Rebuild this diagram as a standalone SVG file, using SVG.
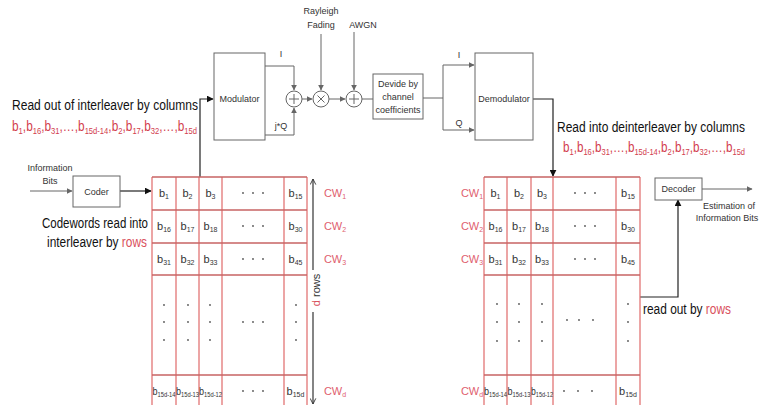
<svg xmlns="http://www.w3.org/2000/svg" width="761" height="409" viewBox="0 0 761 409">
<style>
text{font-family:"Liberation Sans",Arial,sans-serif;fill:#333}
.sm{font-size:9px;text-anchor:middle}
.big{font-size:14px;fill:#111}
.seq{font-size:14px;fill:#d2404e}
.s{font-size:9px}
.c{font-size:11px;text-anchor:middle;fill:#333}
.cs{font-size:7px}
.cw{font-size:11px;text-anchor:middle;fill:#e0606e}
.red{fill:#d9505c}
.box{fill:#fff;stroke:#666;stroke-width:1}
.ln{fill:none;stroke:#666;stroke-width:1}
.blk{fill:none;stroke:#222;stroke-width:1.2}
.g{stroke:#e06a6a;stroke-width:1.2;fill:none}
.gh{stroke:#c86464;stroke-width:1.4;fill:none}
.dot{fill:#555}
</style>
<defs>
<marker id="ah" viewBox="0 0 10 10" refX="9" refY="5" markerWidth="6" markerHeight="6" orient="auto" markerUnits="userSpaceOnUse"><path d="M0,0 L10,5 L0,10 z" fill="#666"/></marker>
<marker id="ahb" viewBox="0 0 10 10" refX="9" refY="5" markerWidth="7" markerHeight="7" orient="auto" markerUnits="userSpaceOnUse"><path d="M0,0 L10,5 L0,10 z" fill="#111"/></marker>
<marker id="open" viewBox="0 0 10 10" refX="9" refY="5" markerWidth="7" markerHeight="7" orient="auto-start-reverse" markerUnits="userSpaceOnUse"><path d="M1,1 L9,5 L1,9" fill="none" stroke="#333" stroke-width="1.3"/></marker>
</defs>

<g id="connectors">
  <path class="ln" d="M30,191 H72" marker-end="url(#ah)"/>
  <path class="blk" d="M120,191 H151" marker-end="url(#ahb)"/>
  <path class="blk" d="M200,177 V99 H213" marker-end="url(#ahb)"/>
  <path class="ln" d="M265,66 H294 V90" marker-end="url(#ah)"/>
  <path class="ln" d="M265,135 H294 V108" marker-end="url(#ah)"/>
  <path class="ln" d="M302,99 H312" marker-end="url(#ah)"/>
  <path class="ln" d="M321,34 V90" marker-end="url(#ah)"/>
  <path class="ln" d="M329,99 H345" marker-end="url(#ah)"/>
  <path class="ln" d="M354,32 V90" marker-end="url(#ah)"/>
  <path class="ln" d="M362,99 H373"/>
  <path class="ln" d="M423,98 H443"/>
  <path class="ln" d="M443,65 V130"/>
  <path class="ln" d="M443,65 H474" marker-end="url(#ah)"/>
  <path class="ln" d="M443,130 H474" marker-end="url(#ah)"/>
  <path class="blk" d="M533,99 H553 V176" marker-end="url(#ahb)"/>
  <path class="blk" d="M640,297 H678 V200" marker-end="url(#ahb)"/>
  <path class="ln" d="M702,189 H752" marker-end="url(#ah)"/>
  <path d="M313,179 V404" fill="none" stroke="#333" stroke-width="1.2" marker-start="url(#open)" marker-end="url(#open)"/>
</g>

<g id="info-bits">
  <text class="sm" x="50" y="171">Information</text>
  <text class="sm" x="50" y="184">Bits</text>
</g>
<g id="coder">
  <rect class="box" x="73" y="176" width="47" height="31"/>
  <text class="sm" x="96.5" y="194.5">Coder</text>
</g>
<g id="modulator">
  <rect class="box" x="214" y="53" width="51" height="87"/>
  <text class="sm" x="239.5" y="102">Modulator</text>
  <text class="sm" x="281" y="57">I</text>
  <text class="sm" x="281" y="129">j*Q</text>
</g>
<g id="sum1">
  <circle class="ln" cx="294" cy="99" r="8"/>
  <path class="ln" d="M289,99 H299 M294,94 V104"/>
</g>
<g id="mult">
  <circle class="ln" cx="321" cy="99" r="8"/>
  <path class="ln" d="M317.5,95.5 L324.5,102.5 M324.5,95.5 L317.5,102.5"/>
  <text class="sm" x="321" y="14">Rayleigh</text>
  <text class="sm" x="321" y="28">Fading</text>
</g>
<g id="sum2">
  <circle class="ln" cx="354" cy="99" r="8"/>
  <path class="ln" d="M349,99 H359 M354,94 V104"/>
  <text class="sm" x="363" y="28">AWGN</text>
</g>
<g id="divide">
  <rect class="box" x="373" y="74" width="50" height="45"/>
  <text class="sm" x="398" y="87">Devide by</text>
  <text class="sm" x="398" y="100">channel</text>
  <text class="sm" x="398" y="113">coefficients</text>
</g>
<g id="demodulator">
  <rect class="box" x="475" y="53" width="58" height="87"/>
  <text class="sm" x="504" y="102">Demodulator</text>
  <text class="sm" x="459" y="58">I</text>
  <text class="sm" x="459" y="126">Q</text>
</g>
<g id="decoder">
  <rect class="box" x="655" y="178" width="47" height="22"/>
  <text class="sm" x="678.5" y="192">Decoder</text>
  <text class="sm" x="729" y="209">Estimation of</text>
  <text class="sm" x="727" y="221">Information Bits</text>
</g>

<g id="left-labels">
  <text class="big" x="12" y="110" textLength="186" lengthAdjust="spacingAndGlyphs">Read out of interleaver by columns</text>
  <text class="seq" x="12" y="131" textLength="185" lengthAdjust="spacingAndGlyphs">b<tspan class="s" dy="3">1</tspan><tspan dy="-3">,b</tspan><tspan class="s" dy="3">16</tspan><tspan dy="-3">,b</tspan><tspan class="s" dy="3">31</tspan><tspan dy="-3">,…,b</tspan><tspan class="s" dy="3">15d-14</tspan><tspan dy="-3">,b</tspan><tspan class="s" dy="3">2</tspan><tspan dy="-3">,b</tspan><tspan class="s" dy="3">17</tspan><tspan dy="-3">,b</tspan><tspan class="s" dy="3">32</tspan><tspan dy="-3">,…,b</tspan><tspan class="s" dy="3">15d</tspan></text>
  <text class="big" x="42" y="228" textLength="106" lengthAdjust="spacingAndGlyphs">Codewords read into</text>
  <text class="big" x="47" y="247" textLength="100" lengthAdjust="spacingAndGlyphs">interleaver by <tspan class="red">rows</tspan></text>
</g>

<g id="right-labels">
  <text class="big" x="557" y="132" textLength="188" lengthAdjust="spacingAndGlyphs">Read into deinterleaver by columns</text>
  <text class="seq" x="563" y="152" textLength="182" lengthAdjust="spacingAndGlyphs">b<tspan class="s" dy="3">1</tspan><tspan dy="-3">,b</tspan><tspan class="s" dy="3">16</tspan><tspan dy="-3">,b</tspan><tspan class="s" dy="3">31</tspan><tspan dy="-3">,…,b</tspan><tspan class="s" dy="3">15d-14</tspan><tspan dy="-3">,b</tspan><tspan class="s" dy="3">2</tspan><tspan dy="-3">,b</tspan><tspan class="s" dy="3">17</tspan><tspan dy="-3">,b</tspan><tspan class="s" dy="3">32</tspan><tspan dy="-3">,…,b</tspan><tspan class="s" dy="3">15d</tspan></text>
  <text class="big" x="643" y="314" textLength="88" lengthAdjust="spacingAndGlyphs">read out by <tspan class="red">rows</tspan></text>
</g>

<g id="interleaver">
  <path class="g" d="M152,177 V405 M176,177 V405 M199,177 V405 M222,177 V405 M284,177 V405 M307,177 V405"/>
  <path class="gh" d="M152,177 H307 M152,210 H307 M152,243 H307 M152,275 H307 M152,375 H307"/>
  <text class="c" x="164" y="197">b<tspan class="cs" dy="2">1</tspan></text>
  <text class="c" x="187.5" y="197">b<tspan class="cs" dy="2">2</tspan></text>
  <text class="c" x="210.5" y="197">b<tspan class="cs" dy="2">3</tspan></text>
  <text class="c" x="295.5" y="197">b<tspan class="cs" dy="2">15</tspan></text>
  <text class="c" x="164" y="230">b<tspan class="cs" dy="2">16</tspan></text>
  <text class="c" x="187.5" y="230">b<tspan class="cs" dy="2">17</tspan></text>
  <text class="c" x="210.5" y="230">b<tspan class="cs" dy="2">18</tspan></text>
  <text class="c" x="295.5" y="230">b<tspan class="cs" dy="2">30</tspan></text>
  <text class="c" x="164" y="263">b<tspan class="cs" dy="2">31</tspan></text>
  <text class="c" x="187.5" y="263">b<tspan class="cs" dy="2">32</tspan></text>
  <text class="c" x="210.5" y="263">b<tspan class="cs" dy="2">33</tspan></text>
  <text class="c" x="295.5" y="263">b<tspan class="cs" dy="2">45</tspan></text>
  <text class="c" x="164" y="395" textLength="23" lengthAdjust="spacingAndGlyphs">b<tspan class="cs" dy="2">15d-14</tspan></text>
  <text class="c" x="187.5" y="395" textLength="23" lengthAdjust="spacingAndGlyphs">b<tspan class="cs" dy="2">15d-13</tspan></text>
  <text class="c" x="210.5" y="395" textLength="23" lengthAdjust="spacingAndGlyphs">b<tspan class="cs" dy="2">15d-12</tspan></text>
  <text class="c" x="295.5" y="395">b<tspan class="cs" dy="2">15d</tspan></text>
  <g class="dot">
    <circle cx="243" cy="193" r="0.9"/><circle cx="253" cy="193" r="0.9"/><circle cx="263" cy="193" r="0.9"/>
    <circle cx="243" cy="226" r="0.9"/><circle cx="253" cy="226" r="0.9"/><circle cx="263" cy="226" r="0.9"/>
    <circle cx="243" cy="259" r="0.9"/><circle cx="253" cy="259" r="0.9"/><circle cx="263" cy="259" r="0.9"/>
    <circle cx="243" cy="391" r="0.9"/><circle cx="253" cy="391" r="0.9"/><circle cx="263" cy="391" r="0.9"/>
    <circle cx="243" cy="322" r="0.9"/><circle cx="253" cy="322" r="0.9"/><circle cx="263" cy="322" r="0.9"/>
    <circle cx="164" cy="305" r="0.9"/><circle cx="164" cy="322" r="0.9"/><circle cx="164" cy="340" r="0.9"/>
    <circle cx="188" cy="305" r="0.9"/><circle cx="188" cy="322" r="0.9"/><circle cx="188" cy="340" r="0.9"/>
    <circle cx="210" cy="305" r="0.9"/><circle cx="210" cy="322" r="0.9"/><circle cx="210" cy="340" r="0.9"/>
    <circle cx="296" cy="305" r="0.9"/><circle cx="296" cy="322" r="0.9"/><circle cx="296" cy="340" r="0.9"/>
  </g>
  <text class="cw" x="335" y="197">CW<tspan class="cs" dy="2">1</tspan></text>
  <text class="cw" x="335" y="230">CW<tspan class="cs" dy="2">2</tspan></text>
  <text class="cw" x="335" y="263">CW<tspan class="cs" dy="2">3</tspan></text>
  <text class="cw" x="335" y="395">CW<tspan class="cs" dy="2">d</tspan></text>
  <rect x="309" y="270" width="12" height="42" fill="#fff"/>
  <text class="c" transform="translate(320,290) rotate(-90)"><tspan class="red">d</tspan> rows</text>
</g>

<g id="deinterleaver">
  <path class="g" d="M484,177 V405 M507,177 V405 M531,177 V405 M553,177 V405 M616,177 V405 M640,177 V405"/>
  <path class="gh" d="M484,177 H640 M484,210 H640 M484,243 H640 M484,275 H640 M484,375 H640"/>
  <text class="c" x="495.5" y="197">b<tspan class="cs" dy="2">1</tspan></text>
  <text class="c" x="519" y="197">b<tspan class="cs" dy="2">2</tspan></text>
  <text class="c" x="542" y="197">b<tspan class="cs" dy="2">3</tspan></text>
  <text class="c" x="628" y="197">b<tspan class="cs" dy="2">15</tspan></text>
  <text class="c" x="495.5" y="230">b<tspan class="cs" dy="2">16</tspan></text>
  <text class="c" x="519" y="230">b<tspan class="cs" dy="2">17</tspan></text>
  <text class="c" x="542" y="230">b<tspan class="cs" dy="2">18</tspan></text>
  <text class="c" x="628" y="230">b<tspan class="cs" dy="2">30</tspan></text>
  <text class="c" x="495.5" y="263">b<tspan class="cs" dy="2">31</tspan></text>
  <text class="c" x="519" y="263">b<tspan class="cs" dy="2">32</tspan></text>
  <text class="c" x="542" y="263">b<tspan class="cs" dy="2">33</tspan></text>
  <text class="c" x="628" y="263">b<tspan class="cs" dy="2">45</tspan></text>
  <text class="c" x="495.5" y="395" textLength="23" lengthAdjust="spacingAndGlyphs">b<tspan class="cs" dy="2">15d-14</tspan></text>
  <text class="c" x="519" y="395" textLength="23" lengthAdjust="spacingAndGlyphs">b<tspan class="cs" dy="2">15d-13</tspan></text>
  <text class="c" x="542" y="395" textLength="22" lengthAdjust="spacingAndGlyphs">b<tspan class="cs" dy="2">15d-12</tspan></text>
  <text class="c" x="628" y="395">b<tspan class="cs" dy="2">15d</tspan></text>
  <g class="dot">
    <circle cx="575" cy="193" r="0.9"/><circle cx="585" cy="193" r="0.9"/><circle cx="595" cy="193" r="0.9"/>
    <circle cx="575" cy="226" r="0.9"/><circle cx="585" cy="226" r="0.9"/><circle cx="595" cy="226" r="0.9"/>
    <circle cx="575" cy="259" r="0.9"/><circle cx="585" cy="259" r="0.9"/><circle cx="595" cy="259" r="0.9"/>
    <circle cx="564" cy="391" r="0.9"/><circle cx="578" cy="391" r="0.9"/><circle cx="592" cy="391" r="0.9"/>
    <circle cx="567" cy="320" r="0.9"/><circle cx="579" cy="320" r="0.9"/><circle cx="593" cy="320" r="0.9"/>
    <circle cx="497" cy="304" r="0.9"/><circle cx="497" cy="322" r="0.9"/><circle cx="497" cy="341" r="0.9"/>
    <circle cx="519" cy="304" r="0.9"/><circle cx="519" cy="322" r="0.9"/><circle cx="519" cy="341" r="0.9"/>
    <circle cx="542" cy="304" r="0.9"/><circle cx="542" cy="322" r="0.9"/><circle cx="542" cy="341" r="0.9"/>
    <circle cx="628" cy="304" r="0.9"/><circle cx="628" cy="322" r="0.9"/><circle cx="628" cy="341" r="0.9"/>
  </g>
  <text class="cw" x="472" y="197">CW<tspan class="cs" dy="2">1</tspan></text>
  <text class="cw" x="472" y="230">CW<tspan class="cs" dy="2">2</tspan></text>
  <text class="cw" x="472" y="263">CW<tspan class="cs" dy="2">3</tspan></text>
  <text class="cw" x="472" y="395">CW<tspan class="cs" dy="2">d</tspan></text>
</g>
</svg>
